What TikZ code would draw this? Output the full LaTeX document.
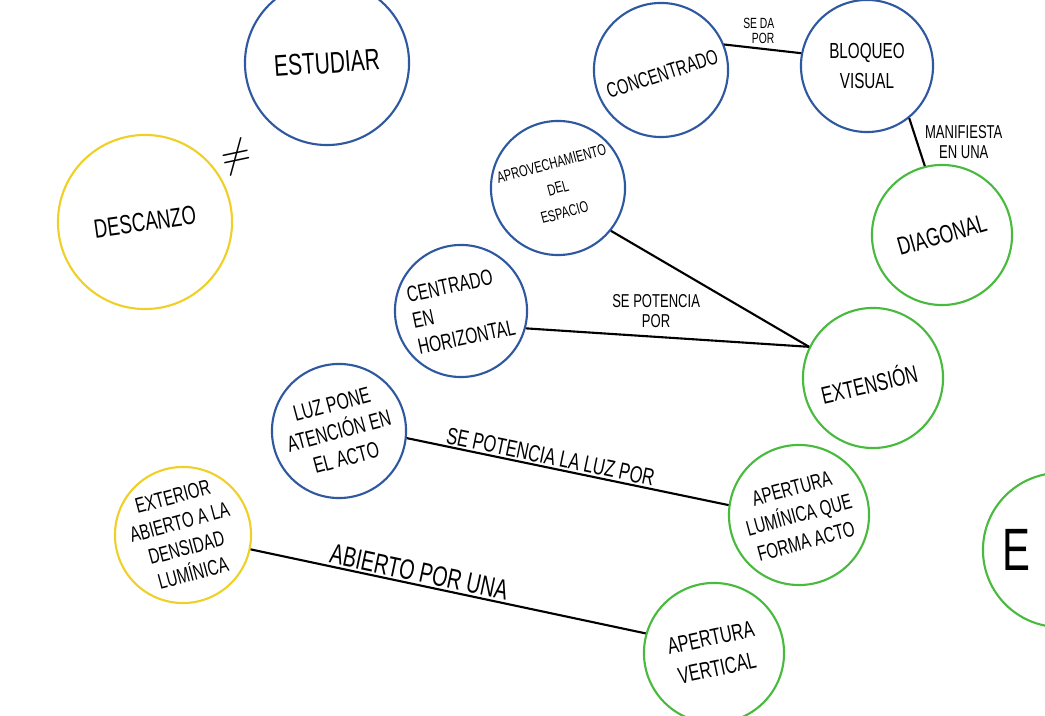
\documentclass[tikz,border=0pt]{standalone}
\usepackage{fontspec}
\newfontfamily\handfont[FakeStretch = 0.7]{Liberation Sans}
\newcommand{\hsz}[2]{\handfont\fontsize{#1}{#2}\selectfont}
\definecolor{penblue}{RGB}{46, 88, 160}
\definecolor{pengreen}{RGB}{72, 186, 62}
\definecolor{penyellow}{RGB}{238, 208, 40}

\begin{document}
\begin{tikzpicture}[x = 0.01cm, y = -0.01cm,
        bubble/.style = {circle, draw = #1, line width = 0.6pt, inner sep = 0pt},
        word/.style = {align = center, inner sep = 0pt, font = #1},
        link/.style = {draw = black, line width = 0.6pt}]
    \useasboundingbox (0, 0) rectangle (1045, 716);
    \fill[white] (0, 0) rectangle (1045, 716);

    \node[bubble = penblue, minimum size = 1.64cm, label = {[word = \hsz{8.5}{10}, rotate = 4]center:ESTUDIAR}] (estudiar) at (327, 63) {};
    \node[bubble = penyellow, minimum size = 1.74cm, label = {[word = \hsz{7.5}{9}, rotate = 8]center:DESCANZO}] (descanzo) at (145, 222) {};
    \node[font = \fontsize{11}{12}\selectfont, rotate = 12] (distinto) at (236, 157) {$\neq$};

    \node[bubble = penblue, minimum size = 1.34cm, label = {[word = \hsz{6}{7}, rotate = 18, yshift = -0.04cm]center:CONCENTRADO}] (concentrado) at (661, 70) {};
    \node[bubble = penblue, minimum size = 1.32cm, label = {[word = \hsz{6.2}{8.5}]center:BLOQUEO\\VISUAL}] (bloqueo) at (867, 66) {};
    \node[bubble = pengreen, minimum size = 1.40cm, label = {[word = \hsz{7.2}{8}, rotate = 16]center:DIAGONAL}] (diagonal) at (942, 235) {};
    \node[bubble = penblue, minimum size = 1.34cm, label = {[word = \hsz{4.5}{7.2}, rotate = 15]center:APROVECHAMIENTO\\DEL\\ESPACIO}] (aprovechamiento) at (558, 188) {};
    \node[bubble = penblue, minimum size = 1.32cm, label = {[word = \hsz{6.3}{7.6}, align = left, rotate = 12]center:CENTRADO\\EN\\HORIZONTAL}] (centrado) at (461, 311) {};
    \node[bubble = pengreen, minimum size = 1.40cm, label = {[word = \hsz{6.9}{8}, rotate = 13, xshift = -0.05cm, yshift = -0.04cm]center:EXTENSIÓN}] (extension) at (873, 378) {};
    \node[bubble = penblue, minimum size = 1.34cm, label = {[word = \hsz{6.4}{7.9}, rotate = 15]center:LUZ PONE\\ATENCIÓN EN\\EL ACTO}] (luz) at (339, 431) {};
    \node[bubble = pengreen, minimum size = 1.40cm, label = {[word = \hsz{6.1}{7.8}, rotate = 15]center:APERTURA\\LUMÍNICA QUE\\FORMA ACTO}] (apluminica) at (799, 515) {};
    \node[bubble = penyellow, minimum size = 1.36cm, label = {[word = \hsz{6.1}{7.5}, rotate = 15]center:EXTERIOR\\ABIERTO A LA\\DENSIDAD\\LUMÍNICA}] (exterior) at (183, 535) {};
    \node[bubble = pengreen, minimum size = 1.40cm, label = {[word = \hsz{6.6}{8.8}, rotate = 12]center:APERTURA\\VERTICAL}] (apvertical) at (714, 653) {};
    \node[bubble = pengreen, minimum size = 1.54cm, label = {[word = \hsz{17}{18}, xshift = -0.44cm]center:E}] (ecirc) at (1060, 550) {};

    \draw[link] (concentrado.22) -- node[pos = 0.45, above = 1pt, word = \hsz{4.2}{4.2}, align = right] (seda) {SE DA\\POR} (bloqueo.169);
    \draw[link] (bloqueo.-51) -- node[right = 2pt, word = \hsz{5.3}{5.8}] (manifiesta) {MANIFIESTA\\EN UNA} (diagonal.104);
    \draw[link] (aprovechamiento.-39) -- (extension.154);
    \draw[link] (centrado.-15) -- node[pos = 0.46, above = 0.08cm, word = \hsz{5.3}{5.8}] (potencia) {SE POTENCIA\\POR} (extension.154);
    \draw[link] (luz.-6) -- node[pos = 0.44, above = 0.5pt, sloped, word = \hsz{6.7}{8}] (potluz) {SE POTENCIA LA LUZ POR} (apluminica.172);
    \draw[link] (exterior.-12) -- node[pos = 0.42, above = 0.5pt, sloped, word = \hsz{8}{9}] (abierto) {ABIERTO POR UNA} (apvertical.164);
\end{tikzpicture}
\end{document}
